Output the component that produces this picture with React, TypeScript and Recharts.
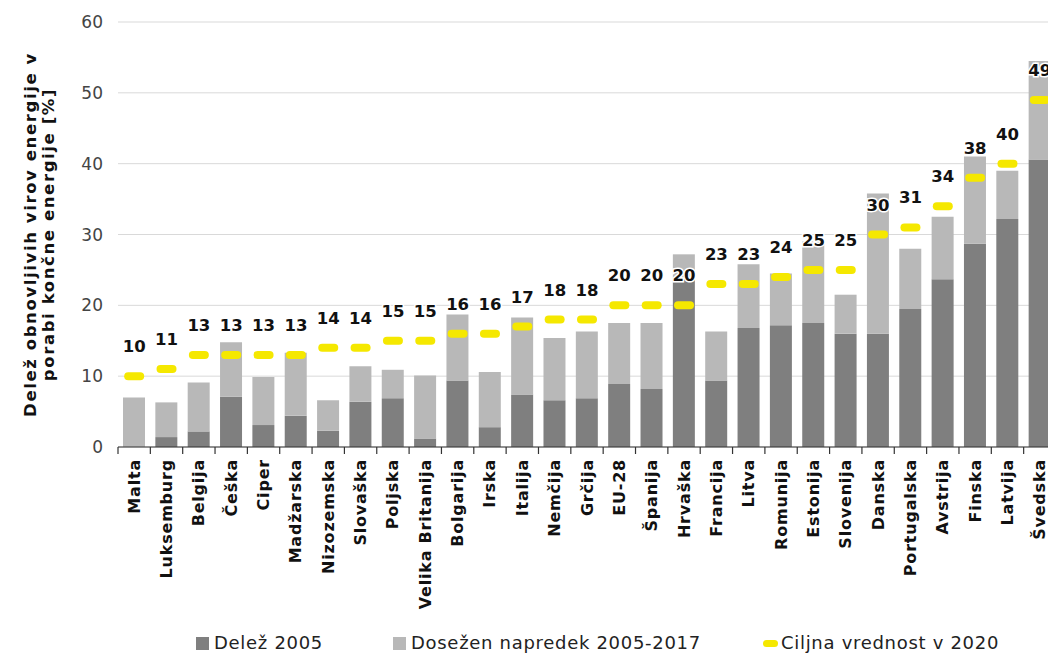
import React from 'react';
import {
  ComposedChart,
  Bar,
  Line,
  XAxis,
  YAxis,
  CartesianGrid,
  LabelList,
  Label,
} from 'recharts';

const categories = [
  'Malta', 'Luksemburg', 'Belgija', 'Češka', 'Ciper', 'Madžarska', 'Nizozemska',
  'Slovaška', 'Poljska', 'Velika Britanija', 'Bolgarija', 'Irska', 'Italija',
  'Nemčija', 'Grčija', 'EU-28', 'Španija', 'Hrvaška', 'Francija', 'Litva',
  'Romunija', 'Estonija', 'Slovenija', 'Danska', 'Portugalska', 'Avstrija',
  'Finska', 'Latvija', 'Švedska',
];

// delež 2005 (temno siva)
const share2005 = [
  0, 1.4, 2.2, 7.1, 3.1, 4.4, 2.3, 6.4, 6.9, 1.2, 9.4, 2.8, 7.4, 6.6, 6.9,
  8.9, 8.2, 23.7, 9.4, 16.8, 17.2, 17.5, 16.0, 16.0, 19.5, 23.7, 28.7, 32.2, 40.6,
];

// skupni delež 2017 (vrh stolpca)
const total2017 = [
  7.0, 6.3, 9.1, 14.8, 9.9, 13.3, 6.6, 11.4, 10.9, 10.1, 18.7, 10.6, 18.3, 15.4, 16.3,
  17.5, 17.5, 27.2, 16.3, 25.8, 24.5, 29.0, 21.5, 35.8, 28.0, 32.5, 41.0, 39.0, 54.5,
];

// ciljna vrednost 2020
const targets = [
  10, 11, 13, 13, 13, 13, 14, 14, 15, 15, 16, 16, 17, 18, 18,
  20, 20, 20, 23, 23, 24, 25, 25, 30, 31, 34, 38, 40, 49,
];

const yTicks = [0, 10, 20, 30, 40, 50, 60];

const data = categories.map((name, i) => ({
  name,
  share: share2005[i],
  progress: +(total2017[i] - share2005[i]).toFixed(1),
  target: targets[i],
}));

const FONT = '"DejaVu Sans", sans-serif';
const DARK = '#7f7f7f';
const LIGHT = '#b8b8b8';
const YELLOW = '#f5e800';

const WIDTH = 1048;
const CHART_H = 620;
const LEGEND_H = 27;
const MARGIN = { top: 14, right: 0, bottom: 0, left: 0 };
const PLOT_H = 425;
const Y_AXIS_W = 110;
const BAND = (WIDTH - Y_AXIS_W - MARGIN.right) / categories.length;

function CountryTick(props: any) {
  const { x, y, payload, index } = props;
  const left = x - BAND / 2;
  const right = x + BAND / 2;
  return (
    <g>
      <line x1={left} y1={y} x2={left} y2={y + 7} stroke="#333" strokeWidth={1.2} />
      {index === categories.length - 1 && (
        <line x1={right} y1={y} x2={right} y2={y + 7} stroke="#333" strokeWidth={1.2} />
      )}
      <text
        x={x}
        y={y + 12}
        transform={`rotate(-90, ${x}, ${y + 12})`}
        textAnchor="end"
        dominantBaseline="central"
        fontFamily={FONT}
        fontWeight={700}
        fontSize={16}
        letterSpacing={0.8}
        fill="#111"
      >
        {payload.value}
      </text>
    </g>
  );
}

function TargetMark(props: any) {
  const { cx, cy } = props;
  if (cx == null || cy == null) return null;
  return <rect x={cx - 10} y={cy - 4} width={20} height={8} rx={4} fill={YELLOW} />;
}

function TargetLabel(props: any) {
  const { x, y, value } = props;
  return (
    <text
      x={x}
      y={y - 24}
      textAnchor="middle"
      fontFamily={FONT}
      fontWeight={700}
      fontSize={16.5}
      fill="#111"
      stroke="#fff"
      strokeWidth={3}
      paintOrder="stroke"
    >
      {value}
    </text>
  );
}

function YTitle(props: any) {
  const { viewBox } = props;
  const cy = viewBox.y + viewBox.height / 2;
  const lines = ['Delež obnovljivih virov energije v', 'porabi končne energije [%]'];
  const xs = [22, 40];
  return (
    <g>
      {lines.map((t, i) => (
        <text
          key={t}
          x={xs[i]}
          y={cy}
          transform={`rotate(-90, ${xs[i]}, ${cy})`}
          textAnchor="middle"
          dominantBaseline="central"
          fontFamily={FONT}
          fontWeight={700}
          fontSize={16.5}
          letterSpacing={1.6}
          fill="#111"
        >
          {t}
        </text>
      ))}
    </g>
  );
}

function LegendRow() {
  const text: React.CSSProperties = {
    position: 'absolute',
    top: 0,
    fontFamily: FONT,
    fontSize: 18,
    letterSpacing: 0.7,
    color: '#222',
    lineHeight: '30px',
    whiteSpace: 'nowrap',
  };
  const box = (left: number, color: string, w = 13, h = 13, r = 0): React.CSSProperties => ({
    position: 'absolute',
    left,
    top: 15 - h / 2,
    width: w,
    height: h,
    borderRadius: r,
    background: color,
  });
  return (
    <div style={{ position: 'relative', width: WIDTH, height: LEGEND_H }}>
      <div style={box(188, DARK)} />
      <div style={{ ...text, left: 206 }}>Delež 2005</div>
      <div style={box(385, LIGHT)} />
      <div style={{ ...text, left: 403 }}>Dosežen napredek 2005-2017</div>
      <div style={box(755, YELLOW, 15, 7, 4)} />
      <div style={{ ...text, left: 773 }}>Ciljna vrednost v 2020</div>
    </div>
  );
}

export default function App(): React.JSX.Element {
  return (
    <div style={{ width: WIDTH, height: CHART_H + LEGEND_H }}>
      <ComposedChart
        width={WIDTH}
        height={CHART_H}
        data={data}
        margin={MARGIN}
        barSize={22}
      >
        <CartesianGrid vertical={false} stroke="#d9d9d9" />
        <XAxis
          dataKey="name"
          interval={0}
          height={CHART_H - MARGIN.top - PLOT_H}
          tickSize={0}
          tickMargin={0}
          tickLine={false}
          axisLine={{ stroke: '#333', strokeWidth: 1.2 }}
          tick={<CountryTick />}
        />
        <YAxis
          width={Y_AXIS_W}
          domain={[0, 60]}
          ticks={yTicks}
          axisLine={false}
          tickLine={false}
          tickMargin={9}
          tick={{ fontFamily: FONT, fontSize: 17, fill: '#444' }}
        >
          <Label content={<YTitle />} />
        </YAxis>
        <Bar dataKey="share" stackId="a" fill={DARK} isAnimationActive={false} />
        <Bar dataKey="progress" stackId="a" fill={LIGHT} isAnimationActive={false} />
        <Line
          dataKey="target"
          stroke="none"
          dot={<TargetMark />}
          activeDot={false}
          isAnimationActive={false}
        >
          <LabelList dataKey="target" content={<TargetLabel />} />
        </Line>
      </ComposedChart>
      <LegendRow />
    </div>
  );
}
